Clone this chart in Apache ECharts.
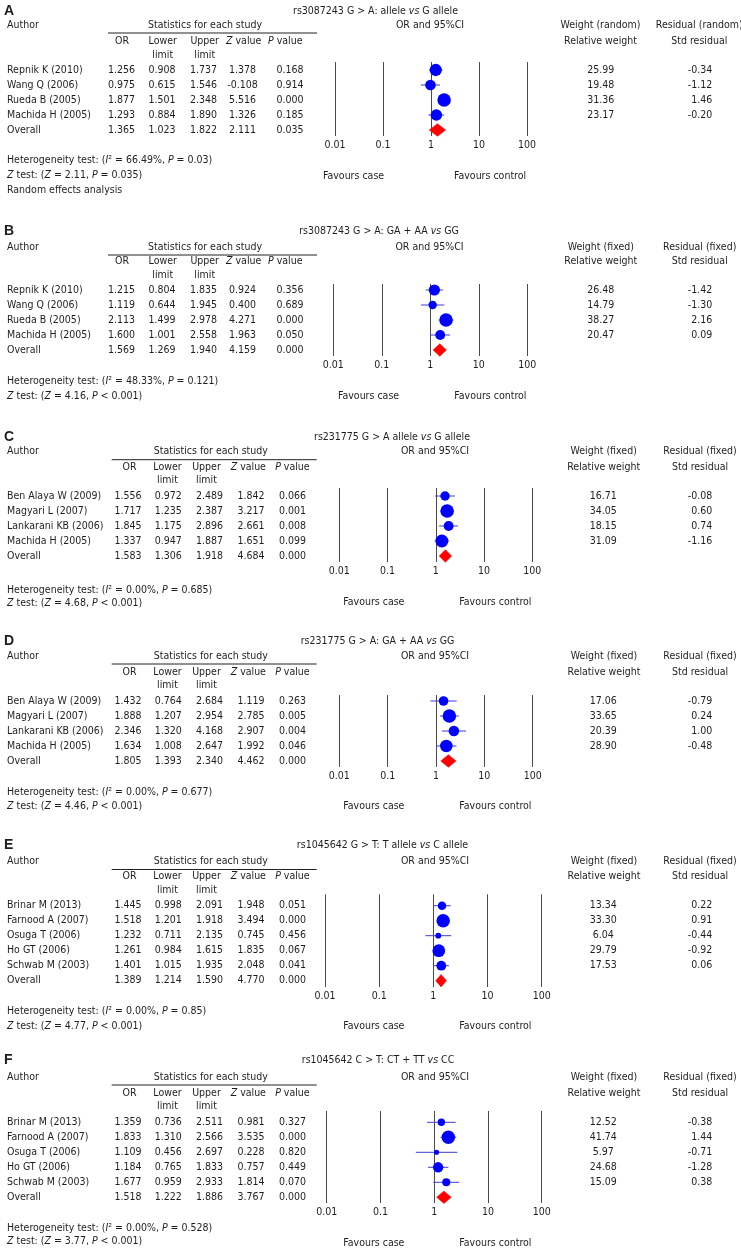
<!DOCTYPE html>
<html><head><meta charset="utf-8">
<script src="https://cdn.jsdelivr.net/npm/echarts@6/dist/echarts.min.js"></script>
<style>html,body{margin:0;padding:0;background:#fff}#c{width:741px;height:1255px}</style>
</head><body><div id="c"></div>
<script>
// ---------------- DATA ----------------
const panelLetters = ['A','B','C','D','E','F'];
const panelTitles = [
  'rs3087243 G > A: allele vs G allele',
  'rs3087243 G > A: GA + AA vs GG',
  'rs231775 G > A allele vs G allele',
  'rs231775 G > A: GA + AA vs GG',
  'rs1045642 G > T: T allele vs C allele',
  'rs1045642 C > T: CT + TT vs CC'
];
const panelModels = ['random','fixed','fixed','fixed','fixed','fixed'];
const axisTicks = [0.01, 0.1, 1, 10, 100];

const studiesAB = ['Repnik K (2010)','Wang Q (2006)','Rueda B (2005)','Machida H (2005)','Overall'];
const studiesCD = ['Ben Alaya W (2009)','Magyari L (2007)','Lankarani KB (2006)','Machida H (2005)','Overall'];
const studiesEF = ['Brinar M (2013)','Farnood A (2007)','Osuga T (2006)','Ho GT (2006)','Schwab M (2003)','Overall'];

const orA = [1.256,0.975,1.877,1.293,1.365];
const loA = [0.908,0.615,1.501,0.884,1.023];
const hiA = [1.737,1.546,2.348,1.890,1.822];
const zA  = [1.378,-0.108,5.516,1.326,2.111];
const pA  = [0.168,0.914,0.000,0.185,0.035];
const wA  = [25.99,19.48,31.36,23.17];
const rA  = [-0.34,-1.12,1.46,-0.20];

const orB = [1.215,1.119,2.113,1.600,1.569];
const loB = [0.804,0.644,1.499,1.001,1.269];
const hiB = [1.835,1.945,2.978,2.558,1.940];
const zB  = [0.924,0.400,4.271,1.963,4.159];
const pB  = [0.356,0.689,0.000,0.050,0.000];
const wB  = [26.48,14.79,38.27,20.47];
const rB  = [-1.42,-1.30,2.16,0.09];

const orC = [1.556,1.717,1.845,1.337,1.583];
const loC = [0.972,1.235,1.175,0.947,1.306];
const hiC = [2.489,2.387,2.896,1.887,1.918];
const zC  = [1.842,3.217,2.661,1.651,4.684];
const pC  = [0.066,0.001,0.008,0.099,0.000];
const wC  = [16.71,34.05,18.15,31.09];
const rC  = [-0.08,0.60,0.74,-1.16];

const orD = [1.432,1.888,2.346,1.634,1.805];
const loD = [0.764,1.207,1.320,1.008,1.393];
const hiD = [2.684,2.954,4.168,2.647,2.340];
const zD  = [1.119,2.785,2.907,1.992,4.462];
const pD  = [0.263,0.005,0.004,0.046,0.000];
const wD  = [17.06,33.65,20.39,28.90];
const rD  = [-0.79,0.24,1.00,-0.48];

const orE = [1.445,1.518,1.232,1.261,1.401,1.389];
const loE = [0.998,1.201,0.711,0.984,1.015,1.214];
const hiE = [2.091,1.918,2.135,1.615,1.935,1.590];
const zE  = [1.948,3.494,0.745,1.835,2.048,4.770];
const pE  = [0.051,0.000,0.456,0.067,0.041,0.000];
const wE  = [13.34,33.30,6.04,29.79,17.53];
const rE  = [0.22,0.91,-0.44,-0.92,0.06];

const orF = [1.359,1.833,1.109,1.184,1.677,1.518];
const loF = [0.736,1.310,0.456,0.765,0.959,1.222];
const hiF = [2.511,2.566,2.697,1.833,2.933,1.886];
const zF  = [0.981,3.535,0.228,0.757,1.814,3.767];
const pF  = [0.327,0.000,0.820,0.449,0.070,0.000];
const wF  = [12.52,41.74,5.97,24.68,15.09];
const rF  = [-0.38,1.44,-0.71,-1.28,0.38];

const hetI2 = ['66.49%','48.33%','0.00%','0.00%','0.00%','0.00%'];
const hetP  = ['0.03','0.121','0.685','0.677','0.85','0.528'];
const ztZ   = ['2.11','4.16','4.68','4.46','4.77','3.77'];
const ztP   = ['= 0.035','< 0.001','< 0.001','< 0.001','< 0.001','< 0.001'];
const extraNote = ['Random effects analysis','','','','',''];

// ---------------- LAYOUT ----------------
const FONT = '"DejaVu Sans Condensed","DejaVu Sans",sans-serif';
const FS = 10.5;
const TXT = '#1e1e1e';
const ROW = 15;

const layouts = [
  {label:11,   titleX:375.5, author:25,    hdr:41,    limit:55,    row1:70,    axTop:62,    axBot:136,  x0:335,   x1:527,   het:160,    zt:175,    fav:176,    caseX:323,   ctrlX:454,   orHdrX:430,   whX:600.5, wX:600.7, rhX:699.3, rX:712.3, tbl:0},
  {label:231.5,titleX:379,   author:247,   hdr:261.5, limit:275,   row1:290,   axTop:284,   axBot:356,  x0:333.3, x1:527.3, het:381,    zt:396,    fav:396,    caseX:338,   ctrlX:454.3, orHdrX:429.5, whX:600.8, wX:600.7, rhX:699.7, rX:712.3, tbl:0},
  {label:437,  titleX:392,   author:451.7, hdr:467,   limit:480,   row1:496,   axTop:488,   axBot:562,  x0:339.3, x1:532.3, het:590,    zt:603.3,  fav:602.7,  caseX:343.3, ctrlX:459.3, orHdrX:435,   whX:603.7, wX:603.3, rhX:700,   rX:712.3, tbl:1},
  {label:641,  titleX:377.5, author:656,   hdr:672,   limit:685.7, row1:701,   axTop:695,   axBot:767,  x0:339.3, x1:532.7, het:792.7,  zt:806.7,  fav:806.7,  caseX:343.3, ctrlX:459.3, orHdrX:435,   whX:604,   wX:603.3, rhX:700,   rX:712.3, tbl:1},
  {label:845.5,titleX:382.5, author:861.5, hdr:876.5, limit:890.7, row1:905.7, axTop:894.3, axBot:987,  x0:325,   x1:541.7, het:1011.7, zt:1026.7, fav:1026.7, caseX:343.3, ctrlX:459.3, orHdrX:435,   whX:604,   wX:603.3, rhX:700,   rX:712.3, tbl:1},
  {label:1060, titleX:378,   author:1077,  hdr:1093,  limit:1106.7,row1:1122.3,axTop:1111,  axBot:1203, x0:326.7, x1:541.7, het:1228.3, zt:1241.7, fav:1243.3, caseX:343.3, ctrlX:459.3, orHdrX:435,   whX:604,   wX:603.3, rhX:700,   rX:712.3, tbl:1}
];
const tables = [
  {hdr:[122,162.7,204.7,243.7,285.3], vals:[121.5,162,203.5,242.5,290], stats:205,   line:[108,317]},
  {hdr:[129.5,167.5,206.5,248.3,292.4], vals:[128,168.3,209.5,251,292.5], stats:210.8, line:[111.7,316.7]}
];

const panels = [
  {studies:studiesAB, or:orA, lo:loA, hi:hiA, z:zA, p:pA, w:wA, r:rA},
  {studies:studiesAB, or:orB, lo:loB, hi:hiB, z:zB, p:pB, w:wB, r:rB},
  {studies:studiesCD, or:orC, lo:loC, hi:hiC, z:zC, p:pC, w:wC, r:rC},
  {studies:studiesCD, or:orD, lo:loD, hi:hiD, z:zD, p:pD, w:wD, r:rD},
  {studies:studiesEF, or:orE, lo:loE, hi:hiE, z:zE, p:pE, w:wE, r:rE},
  {studies:studiesEF, or:orF, lo:loF, hi:hiF, z:zF, p:pF, w:wF, r:rF}
];

// ---------------- HELPERS ----------------
const richIt = {i:{fontStyle:'italic', fontSize:FS, fontFamily:FONT, fill:TXT}};
function T(x, y, s, align, extra) {
  return {
    type:'text', silent:true,
    style: Object.assign({
      x:x, y:y, text:s,
      textAlign:align||'left', align:align||'left',
      textVerticalAlign:'middle', verticalAlign:'middle',
      fill:TXT, fontSize:FS, fontFamily:FONT, rich:richIt
    }, extra||{})
  };
}
function italVs(s){ return s.replace(' vs ', ' {i|vs} '); }

// ---------------- BUILD ----------------
const grids = [], xAxes = [], yAxes = [], series = [], graphics = [];

panels.forEach((P, k) => {
  const L = layouts[k], TB = tables[L.tbl];
  const nRows = P.studies.length;
  const ov = nRows - 1;

  grids.push({left:L.x0, width:L.x1 - L.x0, top:L.axTop, height:L.axBot - L.axTop});
  xAxes.push({
    gridIndex:k, type:'log', logBase:10, min:axisTicks[0], max:axisTicks[axisTicks.length-1],
    axisLine:{show:false}, axisTick:{show:false},
    splitLine:{show:true, showMinLine:true, showMaxLine:true, lineStyle:{color:'#4a4a4a', width:1}},
    axisLabel:{margin:4, fontSize:FS, fontFamily:FONT, color:TXT, formatter:v => String(Number(Number(v).toPrecision(3)))}
  });
  yAxes.push({gridIndex:k, type:'value', inverse:true, show:false,
    min:(L.axTop - L.row1)/ROW, max:(L.axBot - L.row1)/ROW});

  const maxW = Math.max.apply(null, P.w);
  const studyRows = P.w.map((w, i) => [P.or[i], i, w, P.lo[i], P.hi[i]]);

  series.push({
    type:'custom', xAxisIndex:k, yAxisIndex:k, z:2, clip:false, silent:true,
    data: studyRows.map(d => [d[3], d[1], d[4]]),
    renderItem: (params, api) => {
      const a = api.coord([api.value(0), api.value(1)]);
      const b = api.coord([api.value(2), api.value(1)]);
      return {type:'line', shape:{x1:a[0], y1:a[1], x2:b[0], y2:b[1]},
        style:{stroke:'#3d3dd6', lineWidth:1}};
    }
  });
  series.push({
    type:'scatter', xAxisIndex:k, yAxisIndex:k, z:3, silent:true,
    data: studyRows.map(d => [d[0], d[1], d[2]]),
    symbol:'circle',
    symbolSize: v => Math.max(5, 13.5 * Math.sqrt(v[2] / maxW)),
    itemStyle:{color:'#0000ff', opacity:1}
  });
  series.push({
    type:'custom', xAxisIndex:k, yAxisIndex:k, z:4, clip:false, silent:true,
    data:[[P.lo[ov], ov, P.hi[ov], P.or[ov]]],
    renderItem: (params, api) => {
      const a = api.coord([api.value(0), api.value(1)]);
      const b = api.coord([api.value(2), api.value(1)]);
      const c = api.coord([api.value(3), api.value(1)]);
      const h = 6.3, pad = 2.2;
      return {type:'polygon', shape:{points:[[a[0]-pad, a[1]], [c[0], c[1]-h], [b[0]+pad, b[1]], [c[0], c[1]+h]]},
        style:{fill:'#ff0000', stroke:'#ff0000', lineWidth:0.5}};
    }
  });

  // texts
  graphics.push(T(4, L.label, panelLetters[k], 'left', {fontWeight:'bold', fontSize:14, fontFamily:'"Liberation Sans",Arial,sans-serif'}));
  graphics.push(T(L.titleX, L.label, italVs(panelTitles[k]), 'center'));
  graphics.push(T(7, L.author, 'Author'));
  graphics.push(T(TB.stats, L.author, 'Statistics for each study', 'center'));
  graphics.push({type:'line', silent:true, shape:{x1:TB.line[0], y1:L.author+8, x2:TB.line[1], y2:L.author+8}, style:{stroke:'#222', lineWidth:1}});
  const hdrs = ['OR','Lower','Upper','{i|Z} value','{i|P} value'];
  hdrs.forEach((h, j) => graphics.push(T(TB.hdr[j], L.hdr, h, 'center')));
  graphics.push(T(TB.hdr[1], L.limit, 'limit', 'center'));
  graphics.push(T(TB.hdr[2], L.limit, 'limit', 'center'));
  graphics.push(T(L.orHdrX, L.author, 'OR and 95%CI', 'center'));
  graphics.push(T(L.whX, L.author, 'Weight (' + panelModels[k] + ')', 'center'));
  graphics.push(T(L.whX, L.hdr, 'Relative weight', 'center'));
  graphics.push(T(L.rhX, L.author, 'Residual (' + panelModels[k] + ')', 'center'));
  graphics.push(T(L.rhX, L.hdr, 'Std residual', 'center'));

  P.studies.forEach((s, i) => {
    const y = L.row1 + i * ROW;
    graphics.push(T(7, y, s));
    const vals = [P.or[i], P.lo[i], P.hi[i], P.z[i], P.p[i]].map(v => v.toFixed(3));
    vals.forEach((v, j) => graphics.push(T(TB.vals[j], y, v, 'center')));
    if (i < P.w.length) {
      graphics.push(T(L.wX, y, P.w[i].toFixed(2), 'center'));
      graphics.push(T(L.rX, y, P.r[i].toFixed(2), 'right'));
    }
  });

  graphics.push(T(7, L.het, 'Heterogeneity test: ({i|I}\u00b2 = ' + hetI2[k] + ', {i|P} = ' + hetP[k] + ')'));
  graphics.push(T(7, L.zt, '{i|Z} test: ({i|Z} = ' + ztZ[k] + ', {i|P} ' + ztP[k] + ')'));
  if (extraNote[k]) graphics.push(T(7, L.zt + 15, extraNote[k]));
  graphics.push(T(L.caseX, L.fav, 'Favours case'));
  graphics.push(T(L.ctrlX, L.fav, 'Favours control'));
});

const chart = echarts.init(document.getElementById('c'), null, {renderer:'canvas'});
chart.setOption({
  backgroundColor:'#ffffff',
  animation:false,
  grid:grids, xAxis:xAxes, yAxis:yAxes, series:series,
  graphic:{elements:graphics}
});
</script>
</body></html>
